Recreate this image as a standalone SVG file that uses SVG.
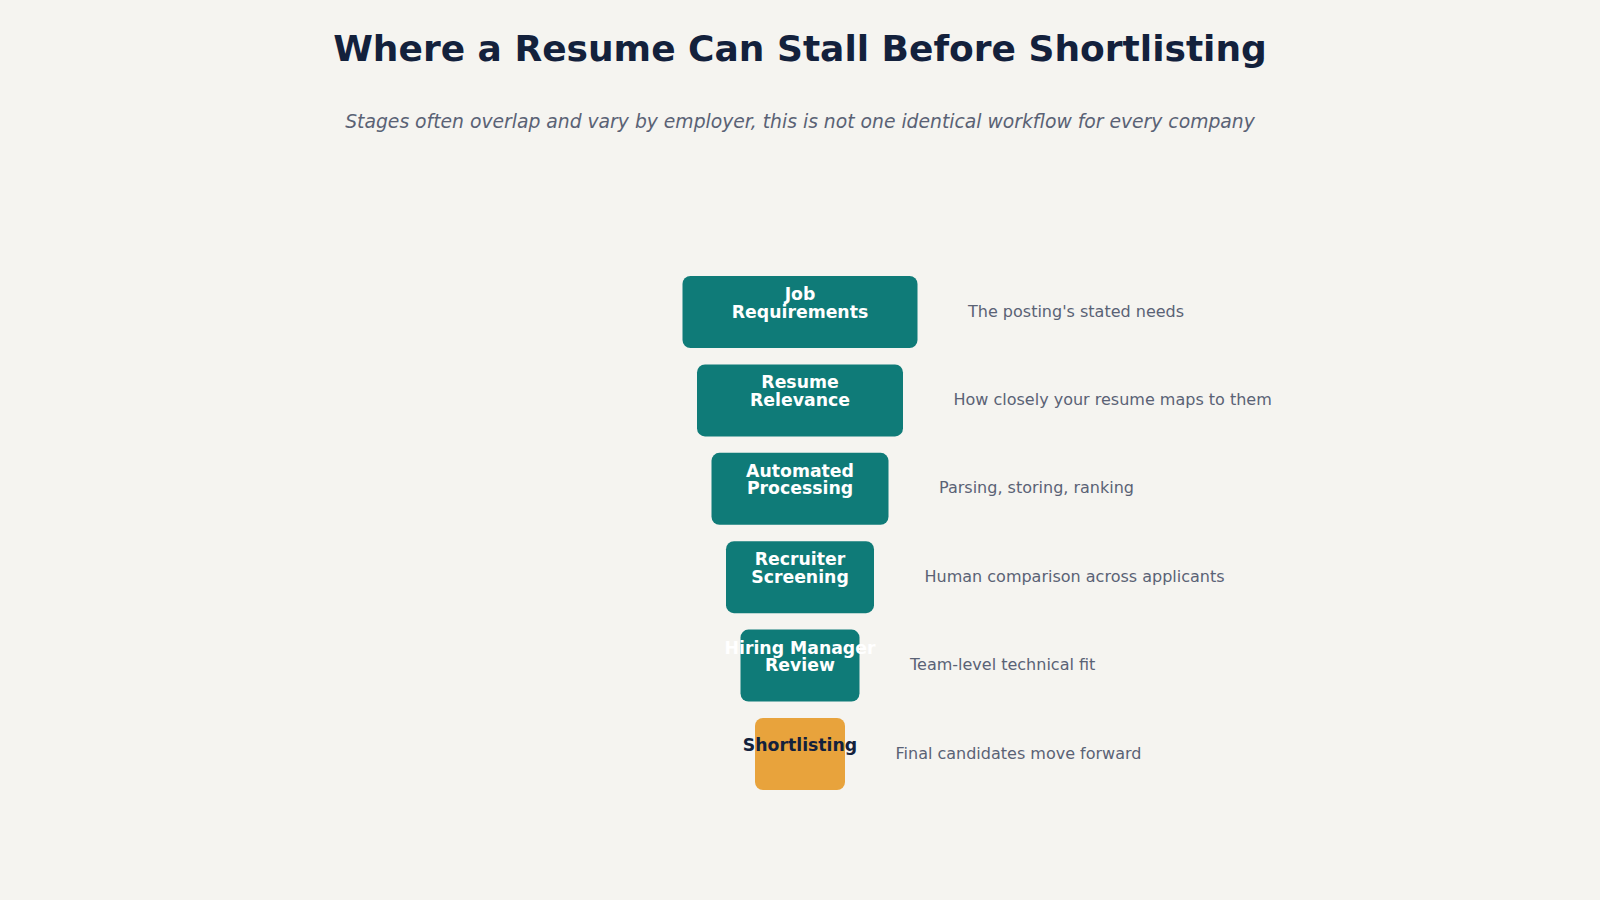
<svg xmlns="http://www.w3.org/2000/svg" width="1600" height="900" viewBox="0 0 1600 900">
<style>
.bg{fill:#f5f4f0}
.title{font-family:"DejaVu Sans",sans-serif;font-weight:bold;font-size:36px;fill:#13213c;text-anchor:middle}
.sub{font-family:"DejaVu Sans",sans-serif;font-style:italic;font-size:18.75px;fill:#5a6275;text-anchor:middle}
.stage{fill:#0f7b78}
.final{fill:#e8a33c}
.lbl{font-family:"DejaVu Sans",sans-serif;font-weight:bold;font-size:17.3px;fill:#ffffff;text-anchor:middle}
.lbld{font-family:"DejaVu Sans",sans-serif;font-weight:bold;font-size:17.3px;fill:#13213c;text-anchor:middle}
.note{font-family:"DejaVu Sans",sans-serif;font-size:16px;fill:#5a6275;dominant-baseline:middle}
</style>
<rect class="bg" x="0" y="0" width="1600" height="900"/>
<text class="title" x="800" y="61">Where a Resume Can Stall Before Shortlisting</text>
<text class="sub" x="800" y="128">Stages often overlap and vary by employer, this is not one identical workflow for every company</text>
<g id="connectors"></g>
<g id="n1">
<rect class="stage" x="682.5" y="276" width="235" height="72" rx="8"/>
<text class="lbl" x="800" y="300">Job</text>
<text class="lbl" x="800" y="317.5">Requirements</text>
<text class="note" x="968" y="312">The posting's stated needs</text>
</g>
<g id="n2">
<rect class="stage" x="697" y="364.4" width="206" height="72" rx="8"/>
<text class="lbl" x="800" y="388.4">Resume</text>
<text class="lbl" x="800" y="405.9">Relevance</text>
<text class="note" x="953.5" y="400.4">How closely your resume maps to them</text>
</g>
<g id="n3">
<rect class="stage" x="711.5" y="452.8" width="177" height="72" rx="8"/>
<text class="lbl" x="800" y="476.8">Automated</text>
<text class="lbl" x="800" y="494.3">Processing</text>
<text class="note" x="939" y="488.8">Parsing, storing, ranking</text>
</g>
<g id="n4">
<rect class="stage" x="726" y="541.2" width="148" height="72" rx="8"/>
<text class="lbl" x="800" y="565.2">Recruiter</text>
<text class="lbl" x="800" y="582.7">Screening</text>
<text class="note" x="924.5" y="577.2">Human comparison across applicants</text>
</g>
<g id="n5">
<rect class="stage" x="740.5" y="629.6" width="119" height="72" rx="8"/>
<text class="lbl" x="800" y="653.6">Hiring Manager</text>
<text class="lbl" x="800" y="671.1">Review</text>
<text class="note" x="910" y="665.6">Team-level technical fit</text>
</g>
<g id="n6">
<rect class="final" x="755" y="718" width="90" height="72" rx="8"/>
<text class="lbld" x="800" y="751">Shortlisting</text>
<text class="note" x="895.5" y="754">Final candidates move forward</text>
</g>
</svg>
